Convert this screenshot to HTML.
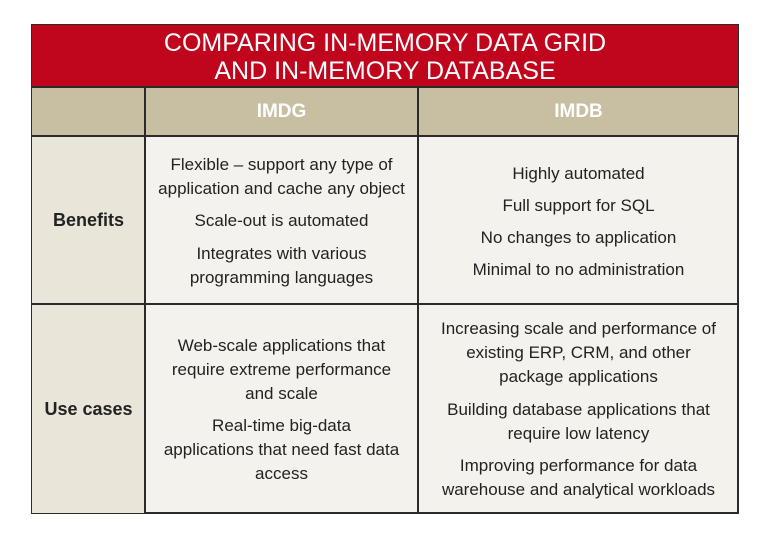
<!DOCTYPE html>
<html><head><style>
body{margin:0;width:770px;height:536px;background:#fff;font-family:"Liberation Sans",sans-serif;position:relative;overflow:hidden}
.b{position:absolute;box-sizing:border-box}
.t{position:absolute;left:0;right:0;text-align:center;white-space:nowrap}
.c{font-size:17px;color:#222;line-height:24px}
</style></head><body>
<div class="b" style="left:31px;top:24px;width:708px;height:490px;border:2px solid #2a2a2a;background:#f4f2ec"></div>
<div class="b" style="left:32px;top:25px;width:706px;height:63px;background:#c0061c;border-bottom:2px solid #2a2a2a"></div>
<div class="t" style="left:31px;width:708px;top:29px;color:#fff;font-size:25px;line-height:28px">COMPARING IN-MEMORY DATA GRID<br>AND IN-MEMORY DATABASE</div>
<div class="b" style="left:32px;top:88px;width:706px;height:49px;background:#c8bfa3;border-bottom:2px solid #2a2a2a"></div>
<div class="b" style="left:32px;top:137px;width:113px;height:376px;background:#e9e5d9"></div>
<div class="b" style="left:32px;top:303px;width:706px;height:2px;background:#2a2a2a"></div>
<div class="b" style="left:144px;top:88px;width:2px;height:425px;background:#2a2a2a"></div>
<div class="b" style="left:417px;top:88px;width:2px;height:425px;background:#2a2a2a"></div>
<div class="t" style="left:146px;width:271px;top:101px;color:#fff;font-weight:bold;font-size:19px">IMDG</div>
<div class="t" style="left:419px;width:319px;top:101px;color:#fff;font-weight:bold;font-size:19px">IMDB</div>
<div class="t" style="left:32px;width:113px;top:210px;font-weight:bold;font-size:18px;color:#222">Benefits</div>
<div class="t" style="left:32px;width:113px;top:399px;font-weight:bold;font-size:18px;color:#222">Use cases</div>
<div class="t c" style="left:146px;width:271px;top:153px">Flexible – support any type of<br>application and cache any object</div>
<div class="t c" style="left:146px;width:271px;top:209px">Scale-out is automated</div>
<div class="t c" style="left:146px;width:271px;top:242px">Integrates with various<br>programming languages</div>
<div class="t c" style="left:419px;width:319px;top:162px">Highly automated</div>
<div class="t c" style="left:419px;width:319px;top:194px">Full support for SQL</div>
<div class="t c" style="left:419px;width:319px;top:226px">No changes to application</div>
<div class="t c" style="left:419px;width:319px;top:258px">Minimal to no administration</div>
<div class="t c" style="left:146px;width:271px;top:334px">Web-scale applications that<br>require extreme performance<br>and scale</div>
<div class="t c" style="left:146px;width:271px;top:414px">Real-time big-data<br>applications that need fast data<br>access</div>
<div class="t c" style="left:419px;width:319px;top:317px">Increasing scale and performance of<br>existing ERP, CRM, and other<br>package applications</div>
<div class="t c" style="left:419px;width:319px;top:398px">Building database applications that<br>require low latency</div>
<div class="t c" style="left:419px;width:319px;top:454px">Improving performance for data<br>warehouse and analytical workloads</div>
</body></html>
